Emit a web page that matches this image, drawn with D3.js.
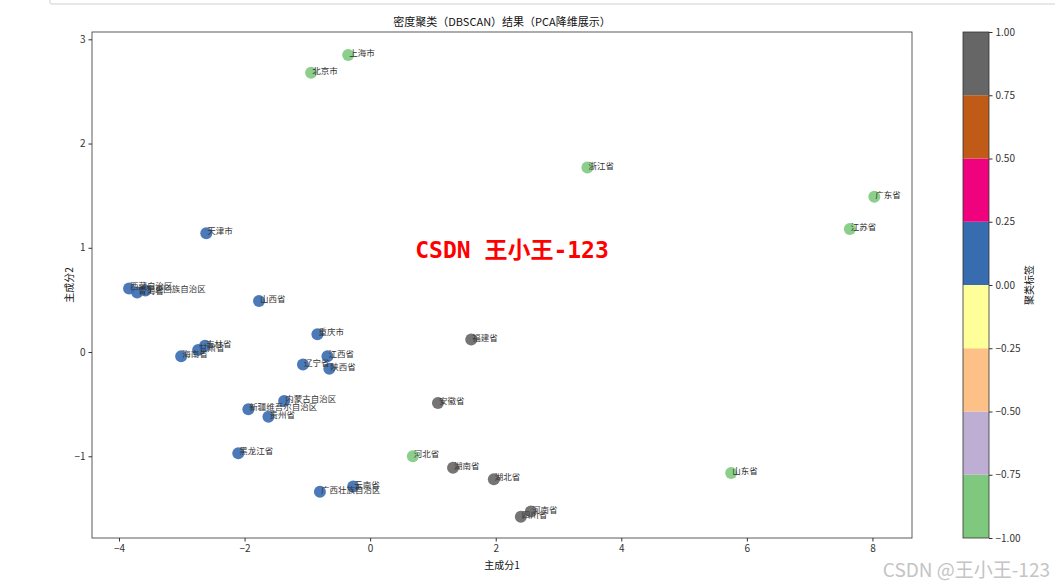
<!DOCTYPE html>
<html><head><meta charset="utf-8">
<script src="https://cdn.jsdelivr.net/npm/d3@7"></script>
<style>body{margin:0;background:#fff;} svg{display:block;}</style>
</head><body><svg id="c" width="1055" height="587"></svg>
<script>
const names = ["上海市","北京市","浙江省","广东省","江苏省","河北省","山东省",
  "福建省","安徽省","湖南省","湖北省","四川省","河南省",
  "天津市","西藏自治区","青海省","宁夏回族自治区","山西省","重庆市","甘肃省","吉林省","海南省",
  "江西省","辽宁省","陕西省","内蒙古自治区","新疆维吾尔自治区","贵州省","黑龙江省","云南省","广西壮族自治区"];
const pc1 = [-0.35,-0.94,3.46,8.03,7.64,0.68,5.75,
  1.61,1.08,1.32,1.97,2.40,2.56,
  -2.61,-3.84,-3.71,-3.58,-1.77,-0.84,-2.74,-2.63,-3.01,
  -0.68,-1.07,-0.65,-1.37,-1.94,-1.62,-2.10,-0.27,-0.80];
const pc2 = [2.85,2.68,1.77,1.49,1.18,-1.00,-1.16,
  0.12,-0.49,-1.11,-1.22,-1.58,-1.53,
  1.14,0.61,0.57,0.59,0.49,0.17,0.02,0.06,-0.04,
  -0.04,-0.12,-0.16,-0.47,-0.55,-0.62,-0.97,-1.29,-1.34];
const clusters = [-1,-1,-1,-1,-1,-1,-1, 1,1,1,1,1,1, 0,0,0,0,0,0,0,0,0,0,0,0,0,0,0,0,0,0];
const xTicks = [-4,-2,0,2,4,6,8];
const yTicks = [-1,0,1,2,3];
const cbTicks = [-1,-0.75,-0.5,-0.25,0,0.25,0.5,0.75,1];
const accent = d3.schemeAccent;

const svg = d3.select("#c");
const font = "'Noto Sans CJK SC', 'DejaVu Sans', sans-serif";
const L = 92, R = 912, T = 32, B = 538;
const x = d3.scaleLinear().domain([-4.43, 8.63]).range([L, R]);
const y = d3.scaleLinear().domain([-1.784, 3.07]).range([B, T]);

svg.append("path").attr("d","M50,0 L50,3 Q50,4 52,4 L1055,4").attr("fill","none").attr("stroke","#d0d0d0").attr("stroke-width",1);

const color = d3.scaleQuantize().domain([-1,1]).range(accent);

const xa = svg.append("g").attr("transform",`translate(0,${B})`)
  .call(d3.axisBottom(x).tickValues(xTicks).tickSize(3.5).tickPadding(3).tickFormat(d => d<0 ? "−"+Math.abs(d) : d));
const ya = svg.append("g").attr("transform",`translate(${L},0)`)
  .call(d3.axisLeft(y).tickValues(yTicks).tickSize(3.5).tickPadding(3).tickFormat(d => d<0 ? "−"+Math.abs(d) : d));
[xa,ya].forEach(a=>{a.select(".domain").remove(); a.selectAll("text").attr("font-family",font).attr("font-size",10).attr("fill","#333"); a.selectAll("line").attr("stroke","#333");});

svg.append("rect").attr("x",L).attr("y",T).attr("width",R-L).attr("height",B-T).attr("fill","none").attr("stroke","#333").attr("stroke-width",0.8);

const idx = d3.range(names.length);
svg.append("g").selectAll("circle").data(idx).join("circle")
  .attr("cx", i=>x(pc1[i])).attr("cy", i=>y(pc2[i])).attr("r",6)
  .attr("fill", i=>color(clusters[i])).attr("fill-opacity",0.9);
svg.append("g").selectAll("text").data(idx).join("text")
  .attr("x", i=>x(pc1[i])+1).attr("y", i=>y(pc2[i])+1)
  .attr("font-family",font).attr("font-size",8.5).attr("fill","#333")
  .text(i=>names[i]);

svg.append("text").attr("x",(L+R)/2).attr("y",26).attr("text-anchor","middle")
  .attr("font-family",font).attr("font-size",11).attr("fill","#111").text("密度聚类（DBSCAN）结果（PCA降维展示）");
svg.append("text").attr("x",(L+R)/2).attr("y",569).attr("text-anchor","middle")
  .attr("font-family",font).attr("font-size",10).attr("fill","#111").text("主成分1");
svg.append("text").attr("transform",`translate(73,${(T+B)/2}) rotate(-90)`).attr("text-anchor","middle")
  .attr("font-family",font).attr("font-size",10).attr("fill","#111").text("主成分2");

const cx0 = 963, cw = 26;
const cy = d3.scaleLinear().domain([-1,1]).range([B, T]);
svg.append("g").selectAll("rect").data(d3.range(8)).join("rect")
  .attr("x",cx0).attr("width",cw)
  .attr("y", k=>cy(-1+(k+1)*0.25)).attr("height", k=>cy(-1+k*0.25)-cy(-1+(k+1)*0.25))
  .attr("fill", k=>accent[k]);
svg.append("rect").attr("x",cx0).attr("y",T).attr("width",cw).attr("height",B-T).attr("fill","none").attr("stroke","#333").attr("stroke-width",0.8);
const ca = svg.append("g").attr("transform",`translate(${cx0+cw},0)`)
  .call(d3.axisRight(cy).tickValues(cbTicks).tickSize(3.5).tickPadding(3).tickFormat(d => (d<0?"−":"")+Math.abs(d).toFixed(2)));
ca.select(".domain").remove();
ca.selectAll("text").attr("font-family",font).attr("font-size",10).attr("fill","#333");
ca.selectAll("line").attr("stroke","#333");
svg.append("text").attr("transform",`translate(1033,${(T+B)/2}) rotate(-90)`).attr("text-anchor","middle")
  .attr("font-family",font).attr("font-size",10).attr("fill","#111").text("聚类标签");

svg.append("text").attr("x",512).attr("y",258).attr("text-anchor","middle")
  .attr("font-family","'DejaVu Sans Mono','Noto Sans CJK SC',monospace").attr("font-weight","bold")
  .attr("font-size",23).attr("fill","#ff0000").text("CSDN 王小王-123");
svg.append("text").attr("x",1050).attr("y",577).attr("text-anchor","end")
  .attr("font-family","'Noto Sans CJK SC', sans-serif").attr("font-size",19).attr("fill","#c4c4c4").text("CSDN @王小王-123");
</script></body></html>
